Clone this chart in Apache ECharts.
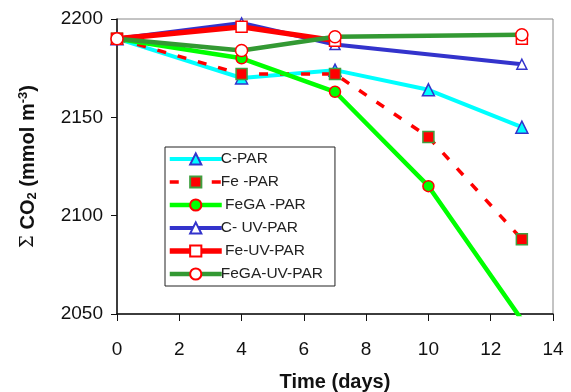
<!DOCTYPE html>
<html>
<head>
<meta charset="utf-8">
<script src="https://cdn.jsdelivr.net/npm/echarts@6/dist/echarts.min.js"></script>
<style>
  html, body { margin: 0; padding: 0; background: #fff; }
  #chart { width: 571px; height: 392px; }
</style>
</head>
<body>
<div id="chart"></div>
<script>
const days = [0, 4, 7, 10, 13];
const xTicks = [0, 2, 4, 6, 8, 10, 12, 14];
const yTicks = [2050, 2100, 2150, 2200];

const seriesNames = ["C-PAR", "Fe -PAR", "FeGA -PAR", "C- UV-PAR", "Fe-UV-PAR", "FeGA-UV-PAR"];
const cPar = [2190, 2170, 2174, 2164, 2145];
const fePar = [2190, 2172, 2172, 2140, 2088];
const fegaPar = [2190, 2180, 2163, 2115, 2047];
const cUvPar = [2190, 2198, 2187, null, 2177];
const feUvPar = [2190, 2196, 2189, null, 2190];
const fegaUvPar = [2190, 2184, 2191, null, 2192];

const pairs = (vals) => days.map((d, i) => [d, vals[i]]);
const font = '"Liberation Sans", Arial, sans-serif';

const lineStyles = [
  { color: "#00FFFF", width: 4 },
  { color: "#FF0000", width: 3.5, type: [9, 12] },
  { color: "#00FF00", width: 4.5 },
  { color: "#3333CC", width: 4 },
  { color: "#FF0000", width: 5.5 },
  { color: "#339933", width: 4.5 }
];

const chart = echarts.init(document.getElementById("chart"));

const option = {
  backgroundColor: "#fff",
  animation: false,
  grid: {
    left: 117, right: 18, top: 19, bottom: 78,
    outerBoundsMode: "none",
    show: true, borderColor: "#888", borderWidth: 1
  },
  legend: {
    orient: "vertical",
    left: 165, top: 147,
    padding: [4, 12, 4, 2],
    backgroundColor: "#fff",
    borderColor: "#222",
    borderWidth: 1,
    itemWidth: 52,
    itemHeight: 14,
    itemGap: 7,
    textStyle: { fontFamily: font, fontSize: 15.5, color: "#222", padding: [0, 0, 0, -6] },
    formatter: (n) => (n === "FeGA -PAR" || n === "Fe-UV-PAR" ? " " + n : n),
    data: seriesNames.map((n, i) => ({ name: n, lineStyle: lineStyles[i] }))
  },
  xAxis: {
    type: "value",
    min: xTicks[0], max: xTicks[xTicks.length - 1], interval: 2,
    name: "Time (days)",
    nameLocation: "middle",
    nameGap: 58,
    nameTextStyle: { fontFamily: font, fontSize: 20, fontWeight: "bold", color: "#111" },
    axisLine: { lineStyle: { color: "#111", width: 1.5 } },
    axisTick: { show: true, inside: false, length: 7, lineStyle: { color: "#111" } },
    axisLabel: { fontFamily: font, fontSize: 19, color: "#111", margin: 26 },
    splitLine: { show: false }
  },
  yAxis: {
    type: "value",
    min: yTicks[0], max: yTicks[yTicks.length - 1], interval: 50,
    name: "{s|Σ }{b|CO}{sub|2}{b| (mmol m}{sup|-3}{b|)}",
    nameLocation: "middle",
    nameGap: 78,
    nameTextStyle: {
      color: "#111",
      rich: {
        s: { fontFamily: '"DejaVu Serif", serif', fontSize: 18, color: "#111", lineHeight: 22 },
        b: { fontFamily: font, fontSize: 20, fontWeight: "bold", color: "#111", lineHeight: 22 },
        sub: { fontFamily: font, fontSize: 13, fontWeight: "bold", color: "#111", lineHeight: 12, verticalAlign: "bottom" },
        sup: { fontFamily: font, fontSize: 13, fontWeight: "bold", color: "#111", lineHeight: 12, verticalAlign: "top" }
      }
    },
    axisLine: { show: true, lineStyle: { color: "#111", width: 1.5 } },
    axisTick: { show: true, inside: false, length: 6, lineStyle: { color: "#111" } },
    axisLabel: { fontFamily: font, fontSize: 19, color: "#111", margin: 14, formatter: (v) => String(v) },
    splitLine: { show: false }
  },
  series: [
    {
      name: seriesNames[0], type: "line", data: pairs(cPar),
      lineStyle: lineStyles[0],
      symbol: "triangle", symbolSize: 12,
      itemStyle: { color: "#00FFFF", borderColor: "#3333CC", borderWidth: 1.5 }
    },
    {
      name: seriesNames[1], type: "line", data: pairs(fePar),
      lineStyle: lineStyles[1],
      symbol: "rect", symbolSize: 11,
      itemStyle: { color: "#FF0000", borderColor: "#3F9F3F", borderWidth: 1.5 }
    },
    {
      name: seriesNames[2], type: "line", data: pairs(fegaPar), clip: true,
      lineStyle: lineStyles[2],
      symbol: "circle", symbolSize: 11,
      itemStyle: { color: "#00FF00", borderColor: "#FF0000", borderWidth: 1.5 }
    },
    {
      name: seriesNames[3], type: "line", data: pairs(cUvPar), connectNulls: true,
      lineStyle: lineStyles[3],
      symbol: "triangle", symbolSize: 10,
      itemStyle: { color: "#fff", borderColor: "#3333CC", borderWidth: 1.5 }
    },
    {
      name: seriesNames[4], type: "line", data: pairs(feUvPar), connectNulls: false,
      lineStyle: lineStyles[4],
      symbol: "rect", symbolSize: 11,
      itemStyle: { color: "#fff", borderColor: "#FF0000", borderWidth: 1.5 }
    },
    {
      name: seriesNames[5], type: "line", data: pairs(fegaUvPar), connectNulls: true,
      lineStyle: lineStyles[5],
      symbol: "circle", symbolSize: 12,
      itemStyle: { color: "#fff", borderColor: "#FF0000", borderWidth: 1.5 }
    }
  ]
};

chart.setOption(option);
</script>
</body>
</html>
